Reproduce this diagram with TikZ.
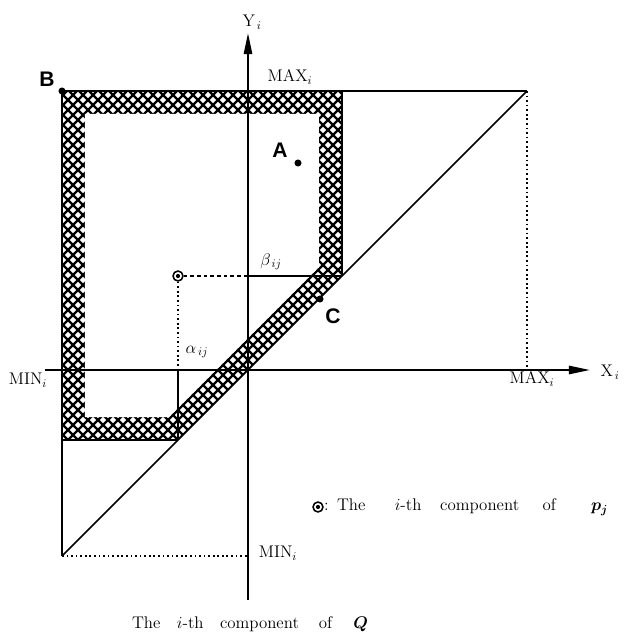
\documentclass[tikz,border=0pt]{standalone}
\usepackage{bm}
\usepackage{fontspec}
\newfontfamily\markFont{Liberation Sans}
\usetikzlibrary{
  arrows.meta,
  positioning
}
\tikzset{
  axisLine/.style={line width=1.8pt, -{Triangle[length=18pt, width=7pt]}},
  boundLine/.style={line width=1.6pt},
  edgeLine/.style={line width=1.3pt},
  thinLine/.style={line width=0.9pt},
  dottedGuide/.style={line width=1.5pt, dash pattern=on 1.5pt off 2.4pt},
  dashedGuide/.style={line width=1.2pt, dash pattern=on 3pt off 2.7pt},
  hatchLine/.style={line width=2.1pt},
  axisLabel/.style={font=\Large\addfontfeatures{LetterSpace=8}, inner sep=1pt},
  pointMark/.style={circle, fill, minimum size=6pt, inner sep=0pt},
  pointLabel/.style={font=\markFont\bfseries\fontsize{18}{20}\selectfont,
    inner sep=0pt},
  compPoint/.style={
    circle, draw, line width=1.3pt, fill=white,
    minimum size=8.5pt, inner sep=0pt,
    path picture={\fill[black] (path picture bounding box.center) circle (1.8pt);}
  },
  captionText/.style={font=\Large\addfontfeatures{LetterSpace=10},
    inner sep=0pt}
}

\begin{document}
\begin{tikzpicture}[x=0.03cm,y=0.03cm]
  \useasboundingbox (-248,-266) rectangle (377,370);
  \coordinate (O) at (0,0);
  \coordinate (B) at (-186,279);
  \coordinate (maxCorner) at (279,279);
  \coordinate (minCorner) at (-186,-186);
  \coordinate (maxX) at (279,0);
  \coordinate (minY) at (0,-186);
  \coordinate (betaFoot) at (0,94);
  \coordinate (betaEnd) at (94,94);
  \coordinate (betaTop) at (94,279);
  \coordinate (alphaFoot) at (-70,0);
  \coordinate (alphaEnd) at (-70,-70);
  \coordinate (alphaLeft) at (-186,-70);
  \coordinate (xStart) at (-203,0);
  \coordinate (xEnd) at (342,0);
  \coordinate (yStart) at (0,-230);
  \coordinate (yEnd) at (0,337);

  \begin{scope}
    \clip (-186,279) -- (94,279) -- (94,94) -- (-70,-70)
      -- (-186,-70) -- cycle;
    \foreach \c in {-300,-290,...,480} {
      \draw[hatchLine] (-200,\c-200) -- (300,\c+300);
      \draw[hatchLine] (-200,\c+200) -- (300,\c-300);
    }
  \end{scope}
  \fill[white] (-163,256) -- (71,256) -- (71,103) -- (-79,-47)
    -- (-163,-47) -- cycle;

  \draw[boundLine] (B) -- (maxCorner);
  \draw[boundLine] (B) -- (minCorner);
  \draw[edgeLine] (minCorner) -- (maxCorner);
  \draw[edgeLine] (betaTop) -- (betaEnd);
  \draw[edgeLine] (alphaLeft) -- (alphaEnd);
  \draw[dottedGuide] (maxCorner) -- (maxX);
  \draw[dottedGuide] (minCorner) -- (minY);

  \node[compPoint] (P) at (-70,94) {};
  \draw[dashedGuide] (P) -- (betaFoot);
  \draw[thinLine] (betaFoot) -- (betaEnd);
  \draw[dottedGuide] (P) -- (alphaFoot);
  \draw[thinLine] (alphaFoot) -- (alphaEnd);

  \draw[axisLine] (xStart) -- (xEnd);
  \draw[axisLine] (yStart) -- (yEnd);

  \node[pointMark] (Bdot) at (B) {};
  \node[pointMark] (Adot) at (50,207) {};
  \node[pointMark] (Cdot) at (72,71) {};
  \node[pointLabel] (Blabel) at (-201,291) {B};
  \node[pointLabel] (Alabel) at (32,220) {A};
  \node[pointLabel] (Clabel) at (85,54) {C};

  \node[axisLabel] (ylab) at (4,348) {$\mathrm{Y}_{\,i}$};
  \node[axisLabel] (xlab) at (362,-2) {$\mathrm{X}_{\,i}$};
  \node[axisLabel] (maxTop) at (42,293) {MAX$_i$};
  \node[axisLabel] (maxRight) at (284,-9) {MAX$_i$};
  \node[axisLabel] (minLeft) at (-220,-10) {MIN$_i$};
  \node[axisLabel] (minBottom) at (30,-183) {MIN$_i$};
  \node[axisLabel] (betaLab) at (23,108) {$\beta_{\,ij}$};
  \node[axisLabel] (alphaLab) at (-51,18) {$\alpha_{\,ij}$};

  \node[compPoint] (legendMark) at (70,-137) {};
  \node[captionText, anchor=west] (legendText) at (76,-137)
    {:\hspace{7pt}The\hspace{25pt}$i$-th\hspace{16pt}component\hspace{20pt}of\hspace{30pt}$\bm{p_j}$};
  \node[captionText] (caption) at (2,-254)
    {The\hspace{14pt}$i$-th\hspace{14pt}component\hspace{17pt}of\hspace{18pt}$\bm{Q}$};
\end{tikzpicture}
\end{document}
